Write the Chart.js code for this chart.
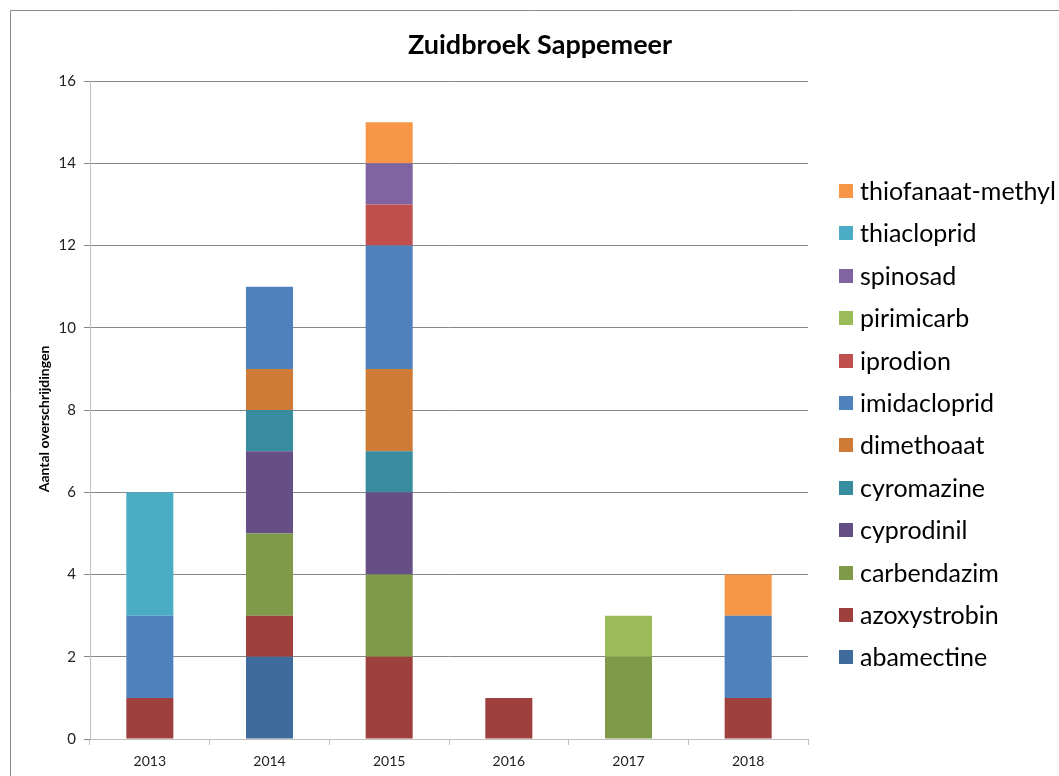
<!DOCTYPE html>
<html>
<head>
<meta charset="utf-8">
<script src="https://cdn.jsdelivr.net/npm/chart.js@4/dist/chart.umd.min.js"></script>
<style>
  html, body { margin: 0; padding: 0; background: #fff; }
  #wrap { width: 1059px; height: 776px; position: relative; }
</style>
</head>
<body>
<div id="wrap"><canvas id="c" width="1059" height="776"></canvas></div>
<script>
const years = ['2013', '2014', '2015', '2016', '2017', '2018'];
const chartTitle = 'Zuidbroek Sappemeer';
const yAxisTitle = 'Aantal overschrijdingen';
const yTicks = [0, 2, 4, 6, 8, 10, 12, 14, 16];

const abamectine      = [0, 2, 0, 0, 0, 0];
const azoxystrobin    = [1, 1, 2, 1, 0, 1];
const carbendazim     = [0, 2, 2, 0, 2, 0];
const cyprodinil      = [0, 2, 2, 0, 0, 0];
const cyromazine      = [0, 1, 1, 0, 0, 0];
const dimethoaat      = [0, 1, 2, 0, 0, 0];
const imidacloprid    = [2, 2, 3, 0, 0, 2];
const iprodion        = [0, 0, 1, 0, 0, 0];
const pirimicarb      = [0, 0, 0, 0, 1, 0];
const spinosad        = [0, 0, 1, 0, 0, 0];
const thiacloprid     = [3, 0, 0, 0, 0, 0];
const thiofanaatMethyl = [0, 0, 1, 0, 0, 1];

const seriesNames = ['abamectine', 'azoxystrobin', 'carbendazim', 'cyprodinil', 'cyromazine',
  'dimethoaat', 'imidacloprid', 'iprodion', 'pirimicarb', 'spinosad', 'thiacloprid', 'thiofanaat-methyl'];
const seriesValues = [abamectine, azoxystrobin, carbendazim, cyprodinil, cyromazine,
  dimethoaat, imidacloprid, iprodion, pirimicarb, spinosad, thiacloprid, thiofanaatMethyl];
const seriesColors = ['#3E6A9C', '#9E413E', '#7F9A48', '#664F85', '#378C9F',
  '#CD7B36', '#4F81BD', '#C0504D', '#9BBB59', '#8064A2', '#4BACC6', '#F79646'];

const FONT = 'Lato, "Open Sans", "Liberation Sans", sans-serif';

const framePlugin = {
  id: 'frame',
  beforeDraw(chart) {
    const ctx = chart.ctx;
    ctx.save();
    ctx.fillStyle = '#fff';
    ctx.fillRect(0, 0, chart.width, chart.height);
    ctx.strokeStyle = '#8a8a8a';
    ctx.lineWidth = 1;
    ctx.beginPath();
    ctx.moveTo(10.5, chart.height + 5);
    ctx.lineTo(10.5, 10.5);
    ctx.lineTo(chart.width + 5, 10.5);
    ctx.stroke();
    ctx.restore();
  }
};

const legendPlugin = {
  id: 'sideLegend',
  afterDraw(chart) {
    const ctx = chart.ctx;
    const ds = chart.data.datasets;
    ctx.save();
    // title
    ctx.font = 'bold 27px ' + FONT;
    ctx.textBaseline = 'middle';
    ctx.textAlign = 'center';
    ctx.fillStyle = '#000';
    ctx.fillText(chartTitle, 540, 45);
    // y axis title
    ctx.save();
    ctx.translate(44, 419);
    ctx.rotate(-Math.PI / 2);
    ctx.font = 'bold 14px ' + FONT;
    ctx.fillText(yAxisTitle, 0, 0);
    ctx.restore();
    // legend
    ctx.font = '25px ' + FONT;
    ctx.textAlign = 'left';
    const n = ds.length;
    for (let k = 0; k < n; k++) {
      const d = ds[n - 1 - k];
      const y = 191 + k * 42.4;
      ctx.fillStyle = d.backgroundColor;
      ctx.fillRect(839, Math.round(y - 7), 14, 14);
      ctx.fillStyle = '#000';
      ctx.fillText(d.label, 860, y + 1);
    }
    ctx.restore();
  }
};

new Chart(document.getElementById('c'), {
  type: 'bar',
  data: {
    labels: years,
    datasets: seriesNames.map((name, i) => ({
      label: name,
      data: seriesValues[i],
      backgroundColor: seriesColors[i],
      borderWidth: 0,
      categoryPercentage: 1.0,
      barPercentage: 0.393
    }))
  },
  options: {
    responsive: false,
    animation: false,
    devicePixelRatio: 1,
    layout: { padding: { left: 0, right: 251, top: 81, bottom: 0 } },
    plugins: {
      legend: { display: false },
      tooltip: { enabled: false },
      title: { display: false }
    },
    scales: {
      x: {
        stacked: true,
        offset: true,
        grid: {
          offset: true,
          drawOnChartArea: false,
          drawTicks: true,
          tickLength: 6,
          color: '#BFBFBF'
        },
        border: { color: '#BFBFBF', width: 1 },
        ticks: { color: '#222', font: { family: FONT, size: 14 }, padding: 8 },
        afterFit(scale) { scale.height = 37; }
      },
      y: {
        stacked: true,
        min: 0,
        max: 16,
        afterBuildTicks(scale) { scale.ticks = yTicks.map(v => ({ value: v })); },
        grid: {
          color: '#878787',
          drawTicks: true,
          tickLength: 6
        },
        border: { color: '#BFBFBF', width: 1 },
        ticks: { color: '#222', font: { family: FONT, size: 15 }, padding: 8 },
        title: { display: false },
        afterFit(scale) { scale.width = 90; }
      }
    }
  },
  plugins: [framePlugin, legendPlugin]
});
</script>
</body>
</html>
